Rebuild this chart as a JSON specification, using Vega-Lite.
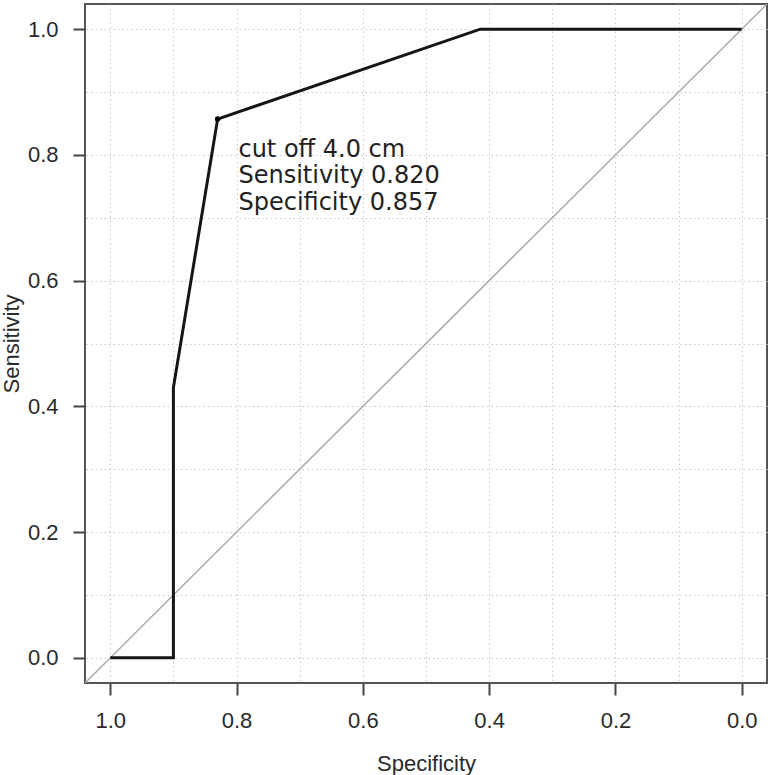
{
  "$schema": "https://vega.github.io/schema/vega-lite/v6.json",
  "width": 682,
  "height": 679,
  "autosize": "none",
  "padding": {"left": 85, "top": 4, "right": 4, "bottom": 92},
  "background": "white",
  "config": {
    "view": {"stroke": "#555555", "strokeWidth": 2},
    "axis": {
      "grid": true,
      "gridColor": "#c8c8c8",
      "gridDash": [1.5, 3],
      "gridWidth": 1,
      "domain": false,
      "tickSize": 12,
      "tickWidth": 2,
      "tickColor": "#444444",
      "labelFont": "Liberation Sans",
      "labelFontSize": 22,
      "labelColor": "#2a2a2a",
      "titleFont": "Liberation Sans",
      "titleFontSize": 22,
      "titleFontWeight": "normal",
      "titleColor": "#2a2a2a"
    }
  },
  "datasets": {
    "roc": [
      {"i": 0, "spec": 1.0, "sens": 0.0},
      {"i": 1, "spec": 0.9, "sens": 0.0},
      {"i": 2, "spec": 0.9, "sens": 0.43},
      {"i": 3, "spec": 0.83, "sens": 0.857},
      {"i": 4, "spec": 0.414, "sens": 1.0},
      {"i": 5, "spec": 0.0, "sens": 1.0}
    ],
    "diag": [
      {"spec": 1.04, "sens": -0.04},
      {"spec": -0.04, "sens": 1.04}
    ],
    "cut": [{"spec": 0.83, "sens": 0.857}],
    "notes": [
      {"spec": 0.797, "sens": 0.797, "label": "cut off 4.0 cm"},
      {"spec": 0.797, "sens": 0.755, "label": "Sensitivity 0.820"},
      {"spec": 0.797, "sens": 0.713, "label": "Specificity 0.857"}
    ]
  },
  "encoding": {
    "x": {
      "field": "spec", "type": "quantitative", "title": "Specificity",
      "scale": {"domain": [-0.04, 1.04], "reverse": true, "nice": false, "zero": false},
      "axis": {
        "values": [0, 0.1, 0.2, 0.3, 0.4, 0.5, 0.6, 0.7, 0.8, 0.9, 1.0],
        "labelExpr": "round(datum.value*10)%2==0 ? format(datum.value,'.1f') : ''",
        "tickOpacity": {"condition": {"test": "round(datum.value*10)%2==0", "value": 1}, "value": 0},
        "labelPadding": 15,
        "titlePadding": 22
      }
    },
    "y": {
      "field": "sens", "type": "quantitative", "title": "Sensitivity",
      "scale": {"domain": [-0.04, 1.04], "nice": false, "zero": false},
      "axis": {
        "values": [0, 0.1, 0.2, 0.3, 0.4, 0.5, 0.6, 0.7, 0.8, 0.9, 1.0],
        "labelExpr": "round(datum.value*10)%2==0 ? format(datum.value,'.1f') : ''",
        "tickOpacity": {"condition": {"test": "round(datum.value*10)%2==0", "value": 1}, "value": 0},
        "labelPadding": 15,
        "titlePadding": 4
      }
    }
  },
  "layer": [
    {
      "data": {"name": "diag"},
      "mark": {"type": "line", "color": "#aaaaaa", "strokeWidth": 1.5, "clip": true},
      "encoding": {}
    },
    {
      "data": {"name": "roc"},
      "mark": {"type": "line", "color": "#151515", "strokeWidth": 3},
      "encoding": {"order": {"field": "i", "type": "quantitative"}}
    },
    {
      "data": {"name": "cut"},
      "mark": {"type": "point", "filled": true, "color": "#000000", "size": 30, "opacity": 1},
      "encoding": {}
    },
    {
      "data": {"name": "notes"},
      "mark": {"type": "text", "align": "left", "baseline": "alphabetic", "font": "DejaVu Sans", "fontSize": 24, "color": "#222222"},
      "encoding": {"text": {"field": "label"}}
    }
  ]
}
